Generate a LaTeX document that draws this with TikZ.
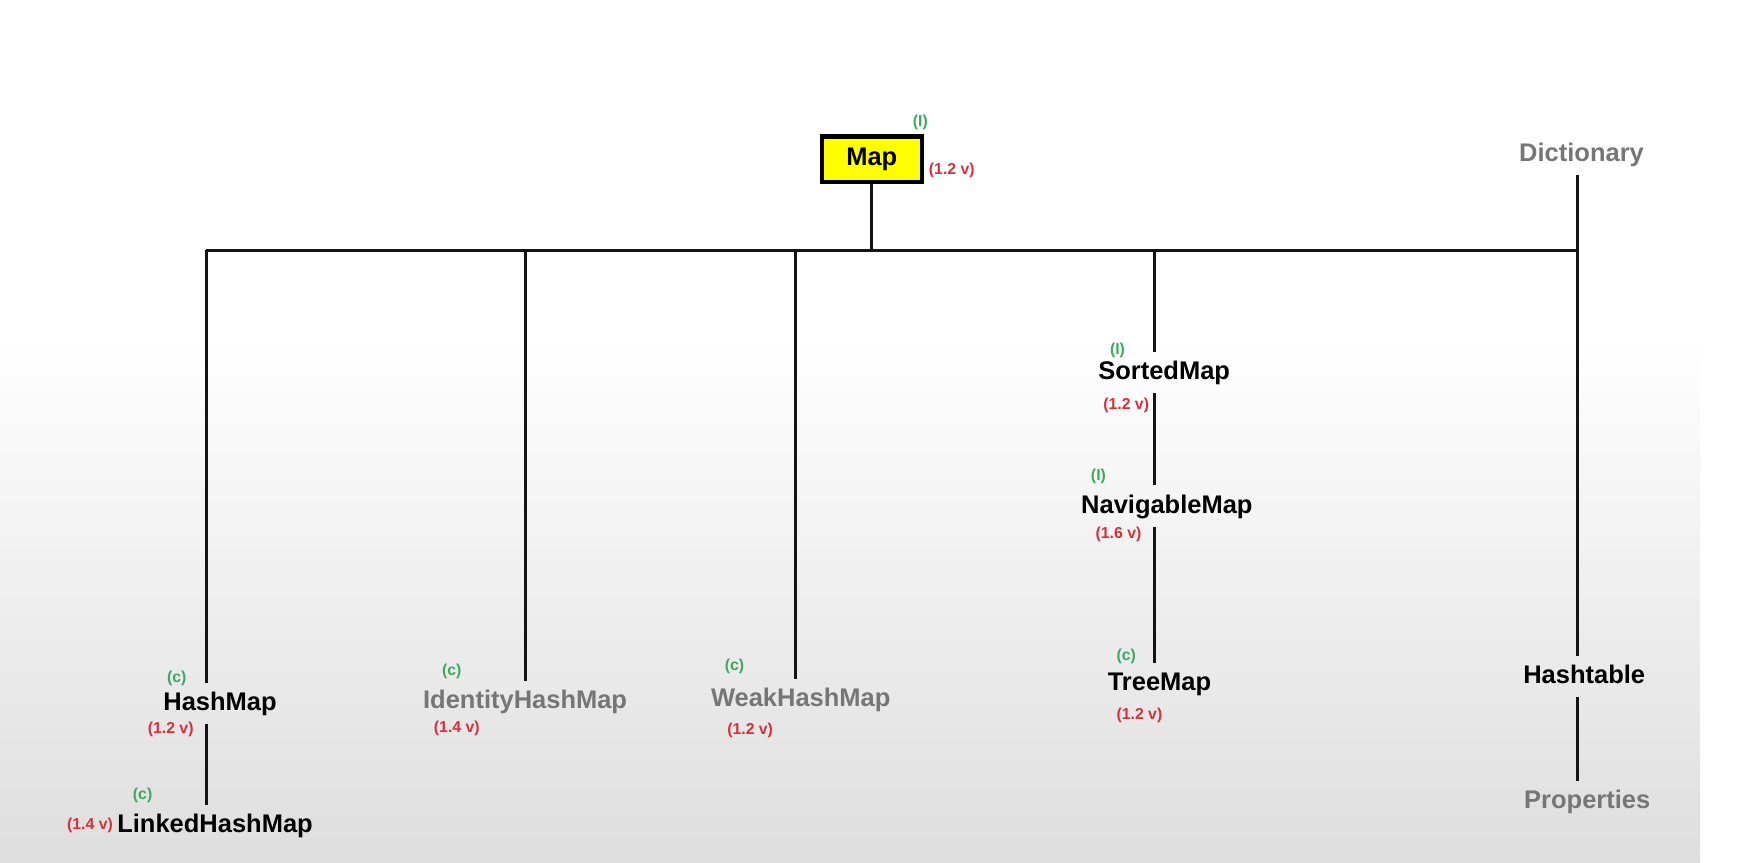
\documentclass[tikz,border=0pt]{standalone}
\usepackage{fontspec}
\setmainfont{Liberation Sans}
\usepackage{tikz}
\usetikzlibrary{positioning}

\definecolor{tagred}{HTML}{D5303C}
\definecolor{taggreen}{HTML}{3DA85E}
\definecolor{oldgray}{HTML}{767676}
\definecolor{boxyellow}{HTML}{FFFF00}

\begin{document}
\begin{tikzpicture}[
x=0.2228mm, y=-0.2228mm,
classnode/.style={font=\bfseries\fontsize{14.5}{17}\selectfont, inner sep=4.5pt, text height=11pt, text depth=3pt},
legacynode/.style={classnode, text=oldgray},
mapnode/.style={rectangle, draw, line width=2.6pt, fill=boxyellow, minimum width=2.0cm, minimum height=0.91cm, font=\bfseries\fontsize{14.5}{17}\selectfont},
kind/.style={font=\bfseries\fontsize{9}{10}\selectfont, text=taggreen, inner sep=0pt},
since/.style={font=\bfseries\fontsize{9}{10}\selectfont, text=tagred, inner sep=0pt},
conn/.style={line width=1.8pt, draw=black!92}
]
\useasboundingbox (0,0) rectangle (1568,774);
\fill[white] (0,0) rectangle (1568,774);
\shade[top color=white, bottom color=black!13] (0,300) rectangle (1526,774);

%Nodes
\node[mapnode]     (map)      at (782.5,143)   {Map};
\node[legacynode]  (dict)     at (1419.5,139)  {Dictionary};
\node[classnode]   (hash)     at (197.5,631.3) {HashMap};
\node[classnode]   (linked)   at (193,740.6)   {LinkedHashMap};
\node[legacynode]  (ident)    at (471.3,629.3) {IdentityHashMap};
\node[legacynode]  (weak)     at (718.7,627.8) {WeakHashMap};
\node[classnode]   (sorted)   at (1044.9,334.5) {SortedMap};
\node[classnode]   (navig)    at (1047.3,454.2) {NavigableMap};
\node[classnode]   (tree)     at (1040.7,613.4) {TreeMap};
\node[classnode]   (table)    at (1421.9,607.4) {Hashtable};
\node[legacynode]  (props)    at (1424.6,719)  {Properties};

%Tags
\node[kind]  (mapK)    at (826,110)      {(I)};
\node[since] (mapV)    at (854.3,152.6)  {(1.2 v)};
\node[kind]  (hashK)   at (158.6,608.9)  {(c)};
\node[since] (hashV)   at (153.2,654.4)  {(1.2 v)};
\node[kind]  (linkedK) at (128,713.7)    {(c)};
\node[since] (linkedV) at (80.8,740.6)   {(1.4 v)};
\node[kind]  (identK)  at (405.5,603)    {(c)};
\node[since] (identV)  at (410,653.8)    {(1.4 v)};
\node[kind]  (weakK)   at (659.2,597.8)  {(c)};
\node[since] (weakV)   at (673.3,656)    {(1.2 v)};
\node[kind]  (sortedK) at (1003,314.8)   {(I)};
\node[since] (sortedV) at (1010.8,363.6) {(1.2 v)};
\node[kind]  (navigK)  at (985.9,427.9)  {(I)};
\node[since] (navigV)  at (1003.9,479.4) {(1.6 v)};
\node[kind]  (treeK)   at (1010.8,589.5) {(c)};
\node[since] (treeV)   at (1022.7,641.8) {(1.2 v)};

%Lines
\coordinate (barL) at (185,224.5);
\coordinate (barR) at (1416,224.5);
\coordinate (tapI) at (472,224.5);
\coordinate (tapW) at (714,224.5);
\coordinate (tapS) at (1036.5,224.5);

\draw[conn] (map.south) -- (map.south |- barL);
\draw[conn] (barL) -- (barR);
\draw[conn] (barL) -- (barL |- hash.north);
\draw[conn] (hash.south -| barL) -- (linked.north -| barL);
\draw[conn] (tapI) -- (tapI |- ident.north);
\draw[conn] (tapW) -- (tapW |- weak.north);
\draw[conn] (tapS) -- (tapS |- sorted.north);
\draw[conn] (sorted.south -| tapS) -- (navig.north -| tapS);
\draw[conn] (navig.south -| tapS) -- (tree.north -| tapS);
\draw[conn] (dict.south -| barR) -- (barR |- table.north);
\draw[conn] (table.south -| barR) -- (props.north -| barR);

\end{tikzpicture}
\end{document}
